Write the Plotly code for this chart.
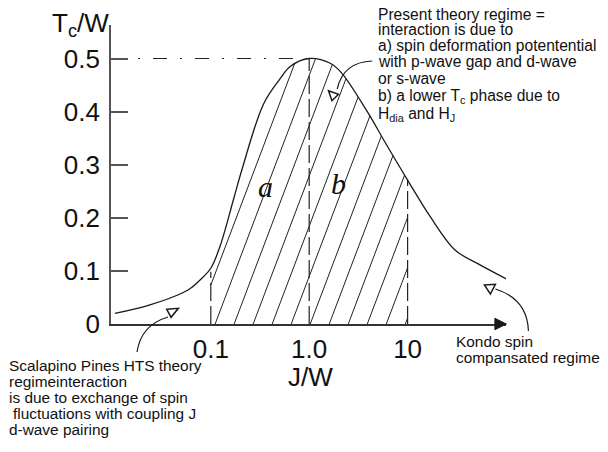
import numpy as np
import plotly.graph_objects as go

# ---------------- data ----------------
J_W = [0.0106, 0.0241, 0.0587, 0.0778, 0.1, 0.1244, 0.1698, 0.2067, 0.343, 0.507,
       0.641, 1.0, 1.635, 2.13, 3.98, 5.70, 10.0, 17.0, 30.5, 55.0, 101.0]
TC_W = [0.020, 0.036, 0.064, 0.083, 0.105, 0.147, 0.234, 0.290, 0.414, 0.462,
        0.485, 0.500, 0.491, 0.473, 0.397, 0.347, 0.271, 0.202, 0.139, 0.111, 0.085]

J_BOUNDS = [0.1, 1.0, 10.0]          # dashed region boundaries
BOUND_TOPS = [0.0985, 0.5, 0.271]     # heights of dashed lines
PEAK_J, PEAK_TC = 1.0, 0.5

Y_TICKS = [0, 0.1, 0.2, 0.3, 0.4, 0.5]
Y_TICK_TEXT = ["0", "0.1", "0.2", "0.3", "0.4", "0.5"]
X_TICKS = [0.1, 1.0, 10.0]
X_TICK_TEXT = ["0.1", "1.0", "10"]

# ---------------- layout geometry ----------------
# page has an 8px body margin; figure is sized so the page matches the reference
OFF = 8
W, H = 600, 444
L, T = 111 - OFF, 25 - OFF
PLOT_RIGHT, PLOT_BOTTOM = 505.6 - OFF, 324 - OFF
R, B = W - PLOT_RIGHT, H - PLOT_BOTTOM
X_RANGE_LOG = [-2.0142, 2.0]
Y_RANGE = [0, 0.5631]
PW, PH = PLOT_RIGHT - L, PLOT_BOTTOM - T

FONT = "Liberation Sans, Arial, sans-serif"


def pxx(px):   # page pixel -> paper x
    return (px - OFF - L) / PW


def pyy(py):   # page pixel -> paper y
    return (PLOT_BOTTOM - (py - OFF)) / PH


# ---------------- hatch (decoration clipped under the curve) ----------------
xs_pix = np.log10(J_W) * 98.3
ys_pix = np.array(TC_W) * 531.0
P = np.column_stack([xs_pix, ys_pix])
pts = []
for i in range(len(P) - 1):
    p0 = P[max(i - 1, 0)]
    p1 = P[i]
    p2 = P[i + 1]
    p3 = P[min(i + 2, len(P) - 1)]
    for t in np.linspace(0, 1, 40, endpoint=False):
        t2, t3 = t * t, t * t * t
        pt = 0.5 * ((2 * p1) + (-p0 + p2) * t + (2 * p0 - 5 * p1 + 4 * p2 - p3) * t2
                    + (-p0 + 3 * p1 - 3 * p2 + p3) * t3)
        pts.append(pt)
pts.append(P[-1])
pts = np.array(pts)
order = np.argsort(pts[:, 0])
c_lx = pts[order, 0] / 98.3
c_y = pts[order, 1] / 531.0

lx_lo, lx_hi = np.log10(J_BOUNDS[0]), np.log10(J_BOUNDS[-1])
slope = 2.042      # d(log10 J)/d(Tc) of hatch lines
step = 0.1933      # spacing of hatch lines in log10 J
hx, hy = [], []
yy = np.linspace(0, 0.56, 3000)
for b in np.arange(-0.956 - 6 * step, lx_hi + step, step):
    lx = b + slope * yy
    cy = np.interp(lx, c_lx, c_y)
    m = (lx >= lx_lo) & (lx <= lx_hi) & (yy <= cy)
    idx = np.where(m)[0]
    if len(idx) < 2:
        continue
    i0, i1 = idx[0], idx[-1]
    hx += [10 ** lx[i0], 10 ** lx[i1], None]
    hy += [yy[i0], yy[i1], None]

fig = go.Figure()

fig.add_trace(go.Scatter(x=hx, y=hy, mode="lines",
                         line=dict(color="#222222", width=1.0),
                         hoverinfo="skip", showlegend=False))

for j, top in zip(J_BOUNDS, BOUND_TOPS):
    fig.add_trace(go.Scatter(x=[j, j], y=[0, top], mode="lines",
                             line=dict(color="#222222", width=1.2, dash="18px,5px"),
                             hoverinfo="skip", showlegend=False))

fig.add_trace(go.Scatter(x=[10 ** X_RANGE_LOG[0], PEAK_J], y=[PEAK_TC, PEAK_TC],
                         mode="lines",
                         line=dict(color="#222222", width=1.1, dash="14px,13px,2px,13px"),
                         hoverinfo="skip", showlegend=False))

fig.add_trace(go.Scatter(x=J_W, y=TC_W, mode="lines",
                         line=dict(color="#1a1a1a", width=1.3, shape="spline", smoothing=1.0),
                         cliponaxis=False, hoverinfo="skip", showlegend=False))

annotations = []
PAD = 3  # plotly annotation inner padding


def txt(px, py, text, size=16, anchor="left", family=FONT, italic=False):
    if anchor == "left":
        px -= PAD
    elif anchor == "right":
        px += PAD
    annotations.append(dict(
        x=pxx(px), y=pyy(py), xref="paper", yref="paper", text=text,
        showarrow=False, xanchor=anchor, yanchor="middle",
        font=dict(size=size, family=family, color="#111111",
                  style="italic" if italic else "normal")))


right_lines = ["Present theory regime =",
               "interaction is due to",
               "a) spin deformation potentential",
               "with p-wave gap and d-wave",
               "or s-wave",
               "b) a lower T<sub>c</sub> phase due to",
               "H<sub>dia</sub> and H<sub>J</sub>"]
right_base = [19.8, 35.3, 51.2, 66.9, 84.0, 102.5, 119.5]
for t_, b_ in zip(right_lines, right_base):
    txt(379, b_ - 5.5, t_, size=15.6)

left_lines = ["Scalapino Pines HTS theory",
              "regimeinteraction",
              "is due to exchange of spin",
              "fluctuations with coupling J",
              "d-wave pairing"]
left_base = [370.7, 386.7, 402.7, 419.3, 435.0]
left_x = [10.5, 10.5, 10.5, 14.5, 10.5]
for t_, b_, x_ in zip(left_lines, left_base, left_x):
    txt(x_, b_ - 5.5, t_, size=15.4)

txt(456.7, 346.7 - 5.5, "Kondo spin", size=15.4)
txt(456.7, 363.3 - 5.5, "compansated regime", size=15.4)

txt(310, 377, "J/W", size=26, anchor="center")
txt(108, 24, "T<sub>c</sub>/W", size=26, anchor="right")

txt(265, 186, "a", size=30, anchor="center", family="Liberation Serif, Times New Roman, serif", italic=True)
txt(338, 183, "b", size=30, anchor="center", family="Liberation Serif, Times New Roman, serif", italic=True)

shapes = []


def path_shape(points, quad=None, closed=False, fill=None, width=1.2):
    if quad is not None:
        (x0, y0), (cx, cy), (x1, y1) = points
        p = f"M {pxx(x0)},{pyy(y0)} Q {pxx(cx)},{pyy(cy)} {pxx(x1)},{pyy(y1)}"
    else:
        p = "M " + " L ".join(f"{pxx(a)},{pyy(b)}" for a, b in points)
        if closed:
            p += " Z"
    d = dict(type="path", xref="paper", yref="paper", path=p,
             line=dict(color="#1a1a1a", width=width), layer="above")
    if fill:
        d["fillcolor"] = fill
    shapes.append(d)


# curved connectors
path_shape([(372, 61), (343, 62), (337, 89)], quad=True)
path_shape([(168, 317), (141, 325), (137, 352)], quad=True)
path_shape([(495, 289), (527, 299), (528, 331)], quad=True)

# open triangles
path_shape([(328.3, 90.7), (331.7, 100.7), (338.3, 94.3)], closed=True, fill="white", width=1.5)
path_shape([(166.7, 309.3), (178.3, 308.3), (171.0, 317.3)], closed=True, fill="white", width=1.5)
path_shape([(484.0, 285.0), (495.0, 284.3), (490.0, 294.0)], closed=True, fill="white", width=1.5)

# x-axis arrowhead
path_shape([(506, 324), (494.5, 318.3), (494.5, 329.7)], closed=True, fill="#1a1a1a", width=1)

fig.update_layout(
    width=W, height=H,
    margin=dict(l=L, r=R, t=T, b=B, autoexpand=False),
    paper_bgcolor="white", plot_bgcolor="white",
    showlegend=False,
    annotations=annotations,
    shapes=shapes,
    font=dict(family=FONT, color="#111111"),
)

fig.update_xaxes(type="log", range=X_RANGE_LOG, showline=True, linecolor="#333333",
                 linewidth=1.6, ticks="", tickvals=X_TICKS, ticktext=X_TICK_TEXT,
                 tickfont=dict(size=26, family=FONT, color="#111111"),
                 showgrid=False, zeroline=False, ticklabelstandoff=1)
fig.update_yaxes(range=Y_RANGE, showline=True, linecolor="#555555", linewidth=1.6,
                 ticks="inside", ticklen=17, tickwidth=1.5, tickcolor="#555555",
                 tickvals=Y_TICKS, ticktext=Y_TICK_TEXT,
                 tickfont=dict(size=26, family=FONT, color="#111111"),
                 showgrid=False, zeroline=False, ticklabelstandoff=4)

fig.write_html("out.html")
